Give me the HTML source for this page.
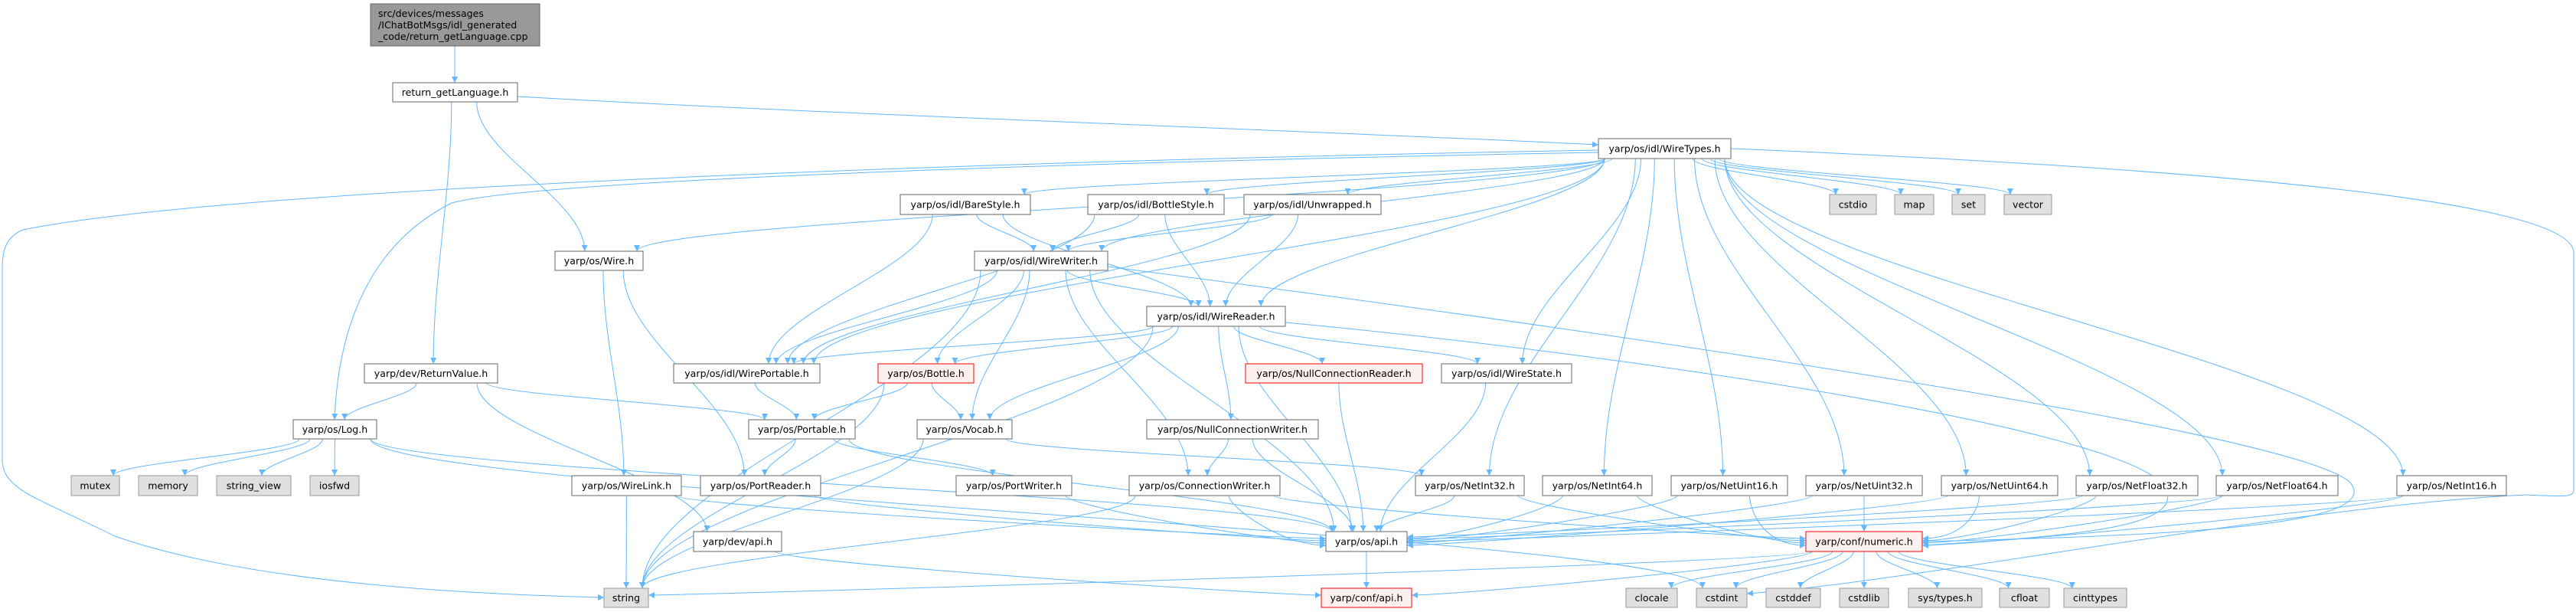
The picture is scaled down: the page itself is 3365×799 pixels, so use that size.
<!DOCTYPE html>
<html><head><meta charset="utf-8"><style>
html,body{margin:0;padding:0;background:#fff;}
svg{display:block}
text{font-family:"DejaVu Sans","Liberation Sans",sans-serif;font-size:12.6px;fill:#000}
</style></head><body>
<svg id="g" width="3365" height="799" viewBox="0 0 3365 799" xmlns="http://www.w3.org/2000/svg">
<defs><marker id="ah" viewBox="0 0 10 10" refX="10" refY="5" markerWidth="10" markerHeight="8" markerUnits="userSpaceOnUse" orient="auto"><path d="M0,0 L10,5 L0,10 z" fill="#63b8ff"/></marker></defs>
<g id="edges" fill="none" stroke="#63b8ff" stroke-width="1"></g>
<g id="nodes">
<rect x="484" y="5" width="221" height="55" fill="#999" stroke="#666"/>
<text x="494" y="22">src/devices/messages</text>
<text x="494" y="37">/IChatBotMsgs/idl_generated</text>
<text x="494" y="52">_code/return_getLanguage.cpp</text>
</g>
</svg>
<script>
var N={
rgl:[513,108,676,133,"return_getLanguage.h",0],
wt:[2088,181,2261,207,"yarp/os/idl/WireTypes.h",0],
wire:[725,328,840,353,"yarp/os/Wire.h",0],
bare:[1176,254,1346,280,"yarp/os/idl/BareStyle.h",0],
bot:[1421,254,1599,280,"yarp/os/idl/BottleStyle.h",0],
unw:[1625,254,1804,280,"yarp/os/idl/Unwrapped.h",0],
cstdio:[2390,254,2451,280,"cstdio",2],
map:[2475,254,2526,280,"map",2],
set:[2550,254,2593,280,"set",2],
vector:[2618,254,2680,280,"vector",2],
ww:[1273,328,1447,353,"yarp/os/idl/WireWriter.h",0],
wr:[1498,400,1679,426,"yarp/os/idl/WireReader.h",0],
rv:[476,475,650,500,"yarp/dev/ReturnValue.h",0],
wp:[880,475,1071,500,"yarp/os/idl/WirePortable.h",0],
bottle:[1147,475,1272,500,"yarp/os/Bottle.h",1],
ncr:[1627,475,1858,500,"yarp/os/NullConnectionReader.h",1],
ws:[1883,475,2053,500,"yarp/os/idl/WireState.h",0],
log:[383,548,492,573,"yarp/os/Log.h",0],
port:[978,548,1117,573,"yarp/os/Portable.h",0],
vocab:[1198,548,1322,573,"yarp/os/Vocab.h",0],
ncw:[1498,548,1722,573,"yarp/os/NullConnectionWriter.h",0],
mutex:[93,621,156,647,"mutex",2],
memory:[181,621,258,647,"memory",2],
sv:[283,621,380,647,"string_view",2],
iosfwd:[405,621,469,647,"iosfwd",2],
wl:[747,621,890,647,"yarp/os/WireLink.h",0],
pr:[915,621,1072,647,"yarp/os/PortReader.h",0],
pw:[1249,621,1400,647,"yarp/os/PortWriter.h",0],
cw:[1475,621,1672,647,"yarp/os/ConnectionWriter.h",0],
ni32:[1849,621,1991,647,"yarp/os/NetInt32.h",0],
ni64:[2015,621,2158,647,"yarp/os/NetInt64.h",0],
nu16:[2183,621,2335,647,"yarp/os/NetUint16.h",0],
nu32:[2359,621,2511,647,"yarp/os/NetUint32.h",0],
nu64:[2536,621,2688,647,"yarp/os/NetUint64.h",0],
nf32:[2712,621,2871,647,"yarp/os/NetFloat32.h",0],
nf64:[2895,621,3054,647,"yarp/os/NetFloat64.h",0],
ni16:[3131,621,3274,647,"yarp/os/NetInt16.h",0],
devapi:[906,694,1021,720,"yarp/dev/api.h",0],
osapi:[1732,694,1838,720,"yarp/os/api.h",0],
num:[2359,694,2511,720,"yarp/conf/numeric.h",1],
string:[789,768,847,793,"string",2],
confapi:[1726,768,1844,793,"yarp/conf/api.h",1],
clocale:[2124,768,2191,793,"clocale",2],
cstdint:[2216,768,2282,793,"cstdint",2],
cstddef:[2307,768,2378,793,"cstddef",2],
cstdlib:[2403,768,2467,793,"cstdlib",2],
systypes:[2493,768,2589,793,"sys/types.h",2],
cfloat:[2612,768,2677,793,"cfloat",2],
cinttypes:[2696,768,2778,793,"cinttypes",2]
};
var S="http://www.w3.org/2000/svg";
var E=document.getElementById("edges"),G=document.getElementById("nodes");
function p(d){var e=document.createElementNS(S,"path");e.setAttribute("d",d);e.setAttribute("marker-end","url(#ah)");E.appendChild(e);}
function cx(n){return (n[0]+n[2])/2}
var sideCount={};
var SIDE={osapi:1,num:1,string:1,confapi:1};
function edge(a,b){var A=N[a],B=N[b];
 var ac=cx(A),bc=cx(B);
 var sx=ac+(bc-ac)*0.15; sx=Math.max(A[0]+8,Math.min(A[2]-8,sx));
 var sy=A[3],ty=B[1];
 var dy=ty-sy;
 if(ty<=sy+2){p("M"+A[2]+","+(A[1]+A[3])/2+" L"+B[0]+","+(B[1]+B[3])/2);return;}
 var dx=bc-ac;
 if(SIDE[b] && Math.abs(dx)>3*dy && dy<120){
   var right=dx<0; var key=b+(right?"r":"l"); sideCount[key]=(sideCount[key]||0)+1;
   var ex=right?B[2]:B[0]; var ey=B[1]+6+((sideCount[key]*3)%14);
   p("M"+sx+","+sy+" C"+sx+","+(sy+dy*0.3)+" "+(ex+(right?60:-60))+","+ey+" "+ex+","+ey);return;}
 var tx=bc+(ac-bc)*0.1; tx=Math.max(B[0]+8,Math.min(B[2]-8,tx));
 p("M"+sx+","+sy+" C"+sx+","+(sy+dy*0.35)+" "+tx+","+(ty-dy*0.35)+" "+tx+","+ty);
}
var L=[
["rgl","wire"],["rgl","rv"],
["wt","wire"],["wt","bare"],["wt","bot"],["wt","unw"],["wt","ww"],["wt","wr"],["wt","wp"],["wt","ws"],
["wt","cstdio"],["wt","map"],["wt","set"],["wt","vector"],["wt","ni32"],["wt","ni64"],["wt","nu16"],["wt","nu32"],["wt","nu64"],["wt","nf32"],["wt","nf64"],["wt","ni16"],
["wire","wl"],["wire","pr"],["wl","string"],["wl","osapi"],
["rv","log"],["rv","port"],["rv","devapi"],
["log","mutex"],["log","memory"],["log","sv"],["log","iosfwd"],["log","osapi"],["log","cstdint"],
["devapi","confapi"],
["bare","ww"],["bare","wr"],["bare","wp"],["bot","ww"],["bot","wr"],["bot","wp"],["unw","ww"],["unw","wr"],["unw","wp"],
["ww","wr"],["ww","wp"],["ww","bottle"],["ww","vocab"],["ww","cw"],["ww","osapi"],["ww","string"],
["wr","wp"],["wr","bottle"],["wr","vocab"],["wr","ncr"],["wr","ncw"],["wr","ws"],["wr","string"],["wr","osapi"],
["wp","port"],["port","pr"],["port","pw"],["port","osapi"],["pr","osapi"],["pw","osapi"],
["bottle","port"],["bottle","vocab"],["bottle","string"],["vocab","ni32"],["vocab","string"],
["ncr","osapi"],["ncw","cw"],["ncw","osapi"],["cw","osapi"],["cw","string"],["cw","num"],["ws","osapi"],
["ni32","osapi"],["ni32","num"],["ni64","osapi"],["ni64","num"],["nu16","osapi"],["nu16","num"],["nu32","osapi"],["nu32","num"],
["nu64","osapi"],["nu64","num"],["nf32","osapi"],["nf32","num"],["nf64","osapi"],["nf64","num"],["ni16","osapi"],["ni16","num"],
["osapi","confapi"],["num","confapi"],["num","string"],["num","clocale"],["num","cstdint"],["num","cstddef"],["num","cstdlib"],["num","systypes"],["num","cfloat"],["num","cinttypes"]
];
p("M594,60 L594,108");
p("M676,126 C1100,150 1700,170 2088,189");
L.forEach(function(e){edge(e[0],e[1])});
p("M2088,196 C1300,210 300,245 30,300 C6,310 3,330 3,350 L3,600 C3,640 50,650 150,700 C350,770 700,778 789,780");
p("M2088,199 C1400,212 700,235 590,265 C460,330 440,470 437,548");
p("M2261,194 C3000,225 3362,270 3362,330 L3362,640 C3362,650 3345,648 3300,646 C3000,660 2500,760 2282,775");
p("M1447,348 C2000,420 3000,560 3070,630 C3120,690 2800,700 2511,707");
p("M1679,421 C2100,460 2800,560 2830,640 C2850,690 2700,700 2511,712");
for(var k in N){var n=N[k];var r=document.createElementNS(S,"rect");
 r.setAttribute("x",n[0]);r.setAttribute("y",n[1]);r.setAttribute("width",n[2]-n[0]);r.setAttribute("height",n[3]-n[1]);
 r.setAttribute("fill",n[5]==1?"#fff0f0":n[5]==2?"#e0e0e0":"#fff");
 r.setAttribute("stroke",n[5]==1?"#ff0000":n[5]==2?"#999":"#666");G.appendChild(r);
 var t=document.createElementNS(S,"text");t.setAttribute("x",cx(n));t.setAttribute("y",(n[1]+n[3])/2+4.5);
 t.setAttribute("text-anchor","middle");t.textContent=n[4];G.appendChild(t);}
</script>
</body></html>
